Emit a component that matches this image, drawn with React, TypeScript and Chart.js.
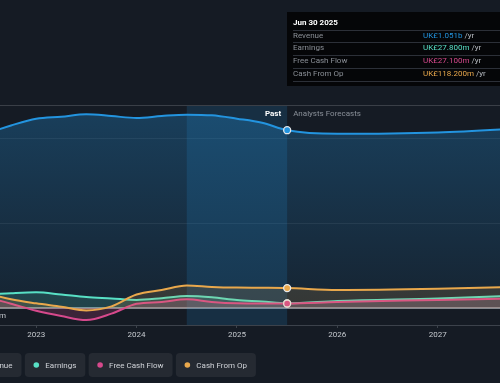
import { useEffect, useRef } from "react";
import { Chart, registerables } from "chart.js";
Chart.register(...registerables);

// ---- data (UK£ millions) ----
const years = [2022.5, 2022.75, 2023.0, 2023.25, 2023.5, 2023.75, 2024.0, 2024.25, 2024.5, 2024.75, 2025.0, 2025.25, 2025.5, 2026.0, 2027.0, 2028.0];
const revenue = [1030, 1079, 1119, 1131, 1145, 1135, 1123, 1135, 1143, 1139, 1119, 1095, 1051, 1030, 1038, 1068];
const earnings = [80, 88, 93, 80, 65, 57, 48, 58, 71, 64, 48, 39, 27.8, 42, 57, 77];
const freeCashFlow = [65, 26, -16, -47, -71, -33, 25, 36, 52, 36, 28, 27, 27.1, 36, 48, 60];
const cashFromOp = [89, 52, 28, 8, -14, 10, 80, 107, 133, 125, 121, 120, 118.2, 107, 114, 128];
const lastPastIndex = 12;

const xTickYears = [2023, 2024, 2025, 2026, 2027];
const yGridValues = [0, 500, 1000];
const xMin = 2022.64;
const xMax = 2027.62;
const highlightStart = 2024.5;
const highlightEnd = 2025.5;

const seriesNames = ["Revenue", "Earnings", "Free Cash Flow", "Cash From Op"];
const seriesColors = ["#2394df", "#58e0c5", "#d6498c", "#e9a84c"];
const tooltipTitle = "Jun 30 2025";
const tooltipValues = ["UK£1.051b", "UK£27.800m", "UK£27.100m", "UK£118.200m"];

const BG = "#151b24";
const FONT = "Roboto, 'Open Sans', sans-serif";

function rgba(hex: string, a: number) {
  const n = parseInt(hex.slice(1), 16);
  return `rgba(${(n >> 16) & 255},${(n >> 8) & 255},${n & 255},${a})`;
}

const decoPlugin = {
  id: "deco",
  beforeDraw(chart: any) {
    const { ctx, width, height } = chart;
    ctx.save();
    ctx.fillStyle = BG;
    ctx.fillRect(0, 0, width, height);
    ctx.restore();
  },
  beforeDatasetsDraw(chart: any) {
    const { ctx, chartArea, scales } = chart;
    const x0 = scales.x.getPixelForValue(highlightStart);
    const x1 = scales.x.getPixelForValue(highlightEnd);
    ctx.save();
    ctx.fillStyle = "rgba(35,148,223,0.17)";
    ctx.fillRect(x0, chartArea.top, x1 - x0, chartArea.bottom - chartArea.top);
    ctx.restore();
  },
  afterDatasetsDraw(chart: any) {
    const { ctx, chartArea, scales, width } = chart;
    ctx.save();
    ctx.strokeStyle = "#3a3f47";
    ctx.lineWidth = 1.2;
    ctx.beginPath();
    ctx.moveTo(0, chartArea.top + 0.5);
    ctx.lineTo(width, chartArea.top + 0.5);
    ctx.stroke();
    const xd = scales.x.getPixelForValue(highlightEnd);
    ctx.textBaseline = "middle";
    ctx.font = `bold 8px ${FONT}`;
    ctx.fillStyle = "#ffffff";
    ctx.textAlign = "right";
    ctx.fillText("Past", xd - 6, chartArea.top + 9);
    ctx.font = `8px ${FONT}`;
    ctx.fillStyle = "#8a9099";
    ctx.textAlign = "left";
    ctx.fillText("Analysts Forecasts", xd + 6, chartArea.top + 9);
    const y0 = scales.y.getPixelForValue(0);
    ctx.fillStyle = "#c5c9ce";
    ctx.textAlign = "right";
    ctx.fillText("UK£0m", 6, y0 + 8);
    ctx.restore();
  },
  afterDraw(chart: any) {
    const { ctx } = chart;
    ctx.save();
    const bx = 287, by = 12, bw = 220, bh = 74;
    ctx.fillStyle = "#050608";
    ctx.fillRect(bx, by, bw, bh);
    ctx.textBaseline = "middle";
    ctx.textAlign = "left";
    ctx.font = `bold 8px ${FONT}`;
    ctx.fillStyle = "#ffffff";
    ctx.fillText(tooltipTitle, 293, 23);
    const rowY = [35.7, 48.3, 61.3, 73.7];
    const sepY = [30, 42, 55, 67.5, 80.5];
    ctx.strokeStyle = "#2c3038";
    ctx.lineWidth = 1;
    sepY.forEach((y) => {
      ctx.beginPath();
      ctx.moveTo(293, Math.round(y) + 0.5);
      ctx.lineTo(500, Math.round(y) + 0.5);
      ctx.stroke();
    });
    ctx.font = `8px ${FONT}`;
    seriesNames.forEach((name, i) => {
      ctx.fillStyle = "#8a8f96";
      ctx.fillText(name, 293, rowY[i]);
      ctx.fillStyle = seriesColors[i];
      ctx.fillText(tooltipValues[i], 423, rowY[i]);
      const w = ctx.measureText(tooltipValues[i]).width;
      ctx.fillStyle = "#b8bcc2";
      ctx.fillText(" /yr", 423 + w, rowY[i]);
    });
    ctx.font = `8px ${FONT}`;
    const widths = seriesNames.map((n) => 11.5 + 9 + ctx.measureText(n).width + 9);
    let x = 25 - widths[0] - 3.5;
    const py = 353, ph = 24;
    seriesNames.forEach((name, i) => {
      const w = widths[i];
      ctx.fillStyle = "#252a32";
      ctx.beginPath();
      (ctx as any).roundRect(x, py, w, ph, 4);
      ctx.fill();
      ctx.fillStyle = seriesColors[i];
      ctx.beginPath();
      ctx.arc(x + 11.5, py + ph / 2, 2.8, 0, Math.PI * 2);
      ctx.fill();
      ctx.fillStyle = "#d0d3d8";
      ctx.textAlign = "left";
      ctx.fillText(name, x + 20.5, py + ph / 2 + 0.5);
      x += w + 3.3;
    });
    ctx.restore();
  },
};

function makeData(values: number[]) {
  return years.map((yr, i) => ({ x: yr, y: values[i] }));
}

export default function App() {
  const ref = useRef<HTMLCanvasElement>(null);
  useEffect(() => {
    const canvas = ref.current;
    if (!canvas) return;
    const all = [revenue, earnings, freeCashFlow, cashFromOp];
    const fillAlpha = [0, 0.17, 0.2, 0.15];
    const datasets = all.map((vals, i) => ({
      label: seriesNames[i],
      data: makeData(vals),
      borderColor: seriesColors[i],
      borderWidth: 2,
      tension: 0.4,
      cubicInterpolationMode: "monotone" as const,
      fill: "origin",
      backgroundColor:
        i === 0
          ? (c: any) => {
              const { chart } = c;
              const area = chart.chartArea;
              if (!area) return rgba(seriesColors[0], 0.2);
              const y0 = chart.scales.y.getPixelForValue(0);
              const g = chart.ctx.createLinearGradient(0, area.top, 0, y0);
              g.addColorStop(0, rgba(seriesColors[0], 0.3));
              g.addColorStop(1, rgba(seriesColors[0], 0.07));
              return g;
            }
          : rgba(seriesColors[i], fillAlpha[i]),
      pointRadius: (c: any) => (c.dataIndex === lastPastIndex ? 3.5 : 0),
      pointHoverRadius: 0,
      pointBackgroundColor: seriesColors[i],
      pointBorderColor: "#e6e8eb",
      pointBorderWidth: 1.3,
      order: 4 - i,
    }));
    const chart = new Chart(canvas, {
      type: "line",
      data: { datasets: datasets as any },
      options: {
        responsive: false,
        animation: false,
        layout: { padding: { top: 105, left: 0, right: 0, bottom: 0 } },
        plugins: { legend: { display: false }, tooltip: { enabled: false } },
        scales: {
          x: {
            type: "linear",
            min: xMin,
            max: xMax,
            afterBuildTicks: (s: any) => {
              s.ticks = xTickYears.map((v) => ({ value: v }));
            },
            afterFit: (s: any) => {
              s.height = 58;
            },
            ticks: {
              autoSkip: false,
              maxRotation: 0,
              padding: 2,
              color: "#c5c9ce",
              font: { family: FONT, size: 8 },
              callback: (v: any) => String(v),
            },
            grid: { drawOnChartArea: false, drawTicks: true, tickLength: 3, color: "#3c424b" },
            border: { display: true, color: "#3c424b", width: 1 },
          },
          y: {
            min: -100,
            max: 1200,
            afterBuildTicks: (s: any) => {
              s.ticks = yGridValues.map((v) => ({ value: v }));
            },
            afterFit: (s: any) => {
              s.width = 0;
            },
            ticks: { display: false },
            grid: {
              drawTicks: false,
              color: (c: any) => (c.tick && c.tick.value === 0 ? "rgba(170,173,178,0.75)" : "rgba(255,255,255,0.07)"),
              lineWidth: (c: any) => (c.tick && c.tick.value === 0 ? 2 : 1),
            },
            border: { display: false },
          },
        },
      },
      plugins: [decoPlugin],
    } as any);
    return () => chart.destroy();
  }, []);
  return (
    <div style={{ position: "fixed", left: 0, top: 0, width: 500, height: 383, background: BG }}>
      <canvas ref={ref} width={500} height={383} style={{ display: "block", width: 500, height: 383 }} />
    </div>
  );
}
